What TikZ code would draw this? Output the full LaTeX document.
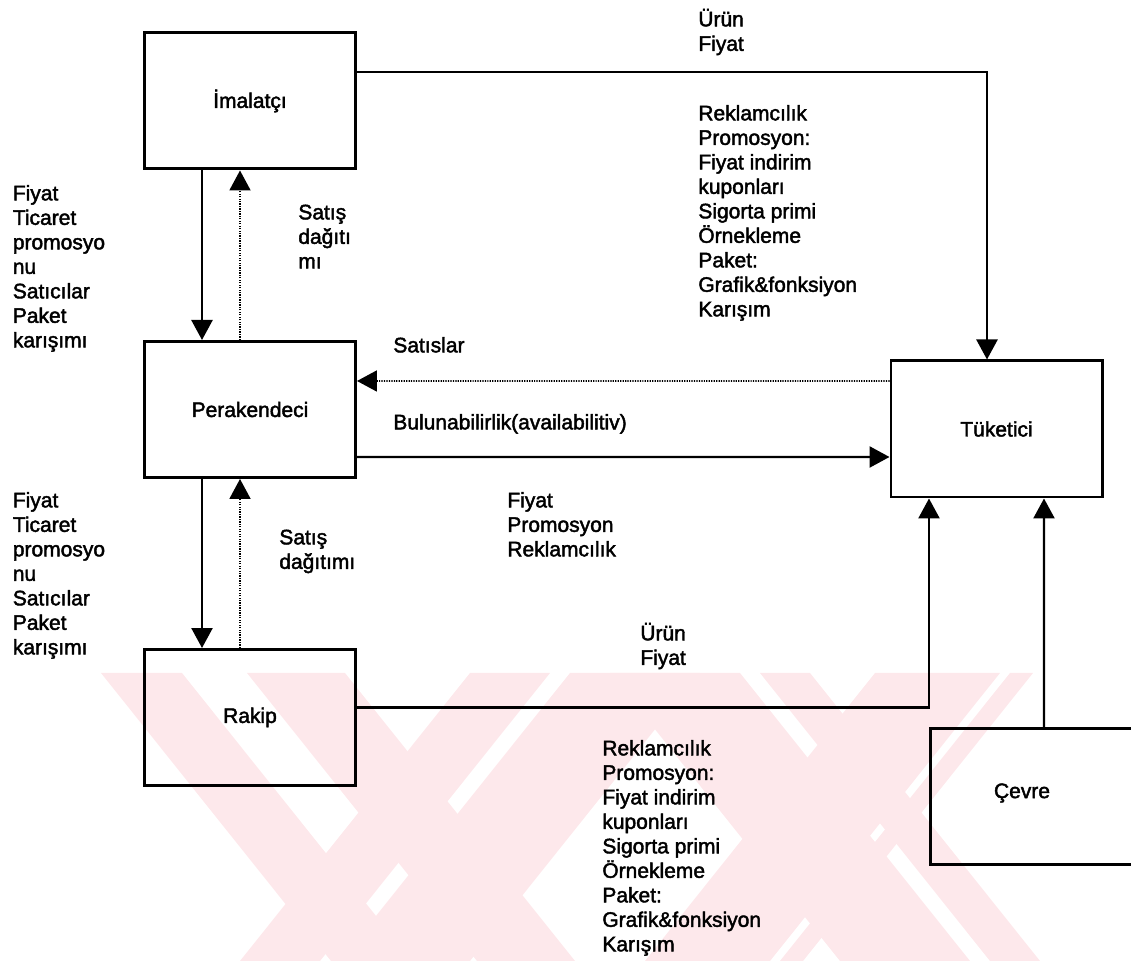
\documentclass[tikz,border=0pt]{standalone}
\usepackage{fontspec}
\setmainfont{Liberation Sans}[UprightFeatures={FakeBold=2}]
\usetikzlibrary{arrows.meta,calc}

\definecolor{wmpink}{RGB}{253,232,235}
\newcommand{\topstrut}{\rule{0pt}{1em}}

\begin{document}
\begin{tikzpicture}[
    >={Triangle[width=0.42cm,length=0.4cm]},
    font=\fontsize{11.95pt}{13.94pt}\selectfont,
    box/.style={draw,line width=1.7pt,minimum width=4.22cm,minimum height=2.72cm,inner sep=0pt},
    flow/.style={->,line width=1.4pt},
    backflow/.style={->,line width=1.1pt,dash pattern=on 0.7pt off 0.7pt},
    note/.style={anchor=north west,align=left,inner sep=0pt}
]

\useasboundingbox (0,0) rectangle (22.62,19.22);

% Watermark (pale stripes in the lower part)
\begin{scope}
    \clip (0,0) rectangle (22.62,5.76);
    \foreach \a/\b in {2.02/3.64,4.94/6.9,12.2/14.8,15.2/16.2}
        \fill[wmpink] (\a,5.76) -- (\b,5.76) -- (\b+4.6,0) -- (\a+4.6,0) -- cycle;
    \foreach \a/\b in {9.4/11.0,11.4/14.0,17.5/20.0,20.2/20.66}
        \fill[wmpink] (\a,5.76) -- (\b,5.76) -- (\b-4.6,0) -- (\a-4.6,0) -- cycle;
\end{scope}

% Actors
\node[box] (imalatci) at (5.0,17.2) {İmalatçı};
\node[box] (perakendeci) at (5.0,11.03) {Perakendeci};
\node[box] (rakip) at (5.0,4.87) {Rakip};
\node[box] (tuketici) at (19.93,10.64) {Tüketici};
\node[box,minimum width=4.4cm,anchor=north west] (cevre) at (18.58,4.68) {};
\node (cevrename) at (20.44,3.36) {Çevre};

% Manufacturer <-> retailer
\draw[flow] ([xshift=-0.96cm]imalatci.south) -- ([xshift=-0.96cm]perakendeci.north);
\draw[backflow] ([xshift=-0.2cm]perakendeci.north) -- ([xshift=-0.2cm]imalatci.south);

% Retailer <-> competitor
\draw[flow] ([xshift=-0.96cm]perakendeci.south) -- ([xshift=-0.96cm]rakip.north);
\draw[backflow] ([xshift=-0.2cm]rakip.north) -- ([xshift=-0.2cm]perakendeci.south);

% Flows towards the consumer
\draw[flow] ([yshift=0.58cm]imalatci.east) -| ([xshift=-0.19cm]tuketici.north);
\draw[backflow] ([yshift=0.96cm]tuketici.west) -- ($(tuketici.west -| perakendeci.east)+(0,0.96)$);
\draw[flow] ($(tuketici.west -| perakendeci.east)+(0,-0.56)$) -- ([yshift=-0.56cm]tuketici.west);
\draw[flow] ([yshift=0.2cm]rakip.east) -| ([xshift=-1.35cm]tuketici.south);
\draw[flow] ($(tuketici.south |- cevre.north)+(0.95,0)$) -- ([xshift=0.95cm]tuketici.south);

% Labels
\node[note] (lbltradeup) at (0.25,15.64)
    {\topstrut Fiyat\\Ticaret\\promosyo\\nu\\Satıcılar\\Paket\\karışımı};
\node[note] (lblsalesup) at (5.96,15.26)
    {\topstrut Satış\\dağıtı\\mı};
\node[note] (lblsales) at (7.86,12.6) {\topstrut Satıslar};
\node[note] (lblavail) at (7.86,11.06) {\topstrut Bulunabilirlik(availabilitiv)};
\node[note] (lblretail) at (10.14,9.5)
    {\topstrut Fiyat\\Promosyon\\Reklamcılık};
\node[note] (lbltradedown) at (0.25,9.5)
    {\topstrut Fiyat\\Ticaret\\promosyo\\nu\\Satıcılar\\Paket\\karışımı};
\node[note] (lblsalesdown) at (5.58,8.76)
    {\topstrut Satış\\dağıtımı};
\node[note] (lblproductup) at (13.96,19.12)
    {\topstrut Ürün\\Fiyat};
\node[note] (lblpromoup) at (13.96,17.24)
    {\topstrut Reklamcılık\\Promosyon:\\Fiyat indirim\\kuponları\\Sigorta primi\\Örnekleme\\Paket:\\Grafik\&fonksiyon\\Karışım};
\node[note] (lblproductdown) at (12.8,6.84)
    {\topstrut Ürün\\Fiyat};
\node[note] (lblpromodown) at (12.04,4.54)
    {\topstrut Reklamcılık\\Promosyon:\\Fiyat indirim\\kuponları\\Sigorta primi\\Örnekleme\\Paket:\\Grafik\&fonksiyon\\Karışım};

\end{tikzpicture}
\end{document}
